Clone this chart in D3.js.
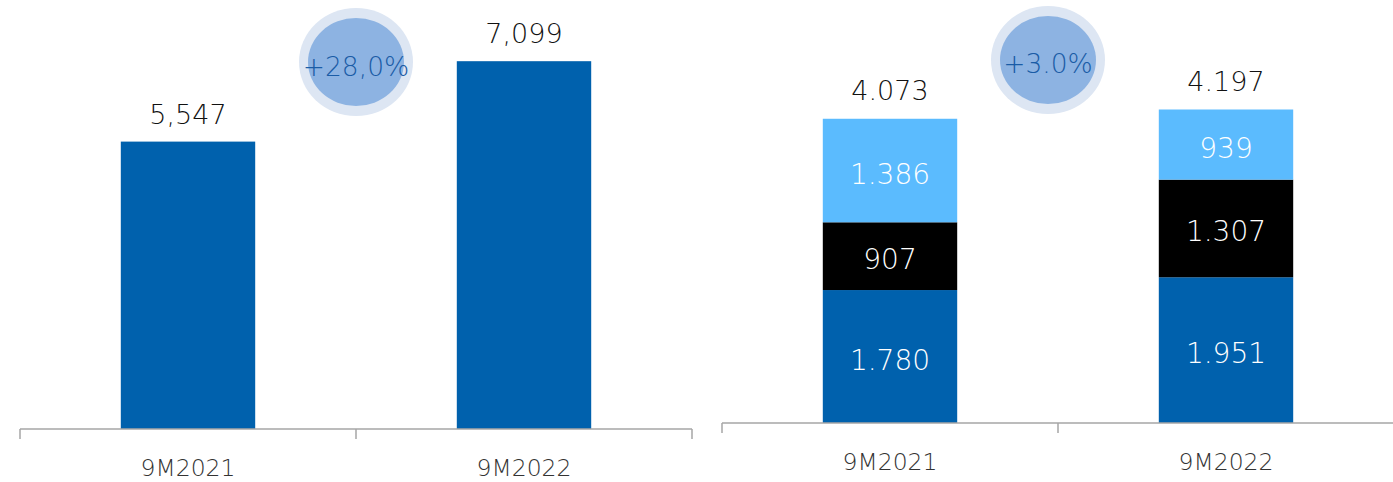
<!DOCTYPE html>
<html>
<head>
<meta charset="utf-8">
<script src="https://cdnjs.cloudflare.com/ajax/libs/d3/7.8.5/d3.min.js"></script>
<style>
  html, body { margin: 0; padding: 0; background: #fff; }
  svg { display: block; }
  text { font-family: "DejaVu Sans", sans-serif; font-weight: 200; }
</style>
</head>
<body>
<svg id="chart" width="1393" height="482"></svg>
<script>
// ---- Data ----
const categories = ["9M2021", "9M2022"];
const leftValues = [5547, 7099];
const leftLabels = ["5,547", "7,099"];
const leftGrowth = "+28,0%";

const stackSeries = ["bottom", "middle", "top"];
const stackBottom = [1780, 1951];
const stackMiddle = [907, 1307];
const stackTop = [1386, 939];
const stackBottomLabels = ["1.780", "1.951"];
const stackMiddleLabels = ["907", "1.307"];
const stackTopLabels = ["1.386", "939"];
const rightTotals = ["4.073", "4.197"];
const rightGrowth = "+3.0%";

// ---- Styles ----
const darkBlue = "#0061ad";
const lightBlue = "#5bbbfe";
const black = "#000000";
const axisColor = "#a6a6a6";

const svg = d3.select("#chart");

// ---------- Left chart ----------
const L = { x0: 20, x1: 692, base: 429 };
const xL = d3.scaleBand().domain(categories).range([L.x0, L.x1]).paddingInner(0.6).paddingOuter(0.3);
const yL = d3.scaleLinear().domain([0, 8280]).range([L.base, 0]);

const gL = svg.append("g");
gL.selectAll("rect.bar").data(categories).join("rect")
  .attr("class", "bar")
  .attr("x", d => xL(d))
  .attr("width", xL.bandwidth())
  .attr("y", (d, i) => yL(leftValues[i]))
  .attr("height", (d, i) => yL(0) - yL(leftValues[i]))
  .attr("fill", darkBlue);

gL.selectAll("text.val").data(categories).join("text")
  .attr("class", "val")
  .attr("x", d => xL(d) + xL.bandwidth() / 2)
  .attr("y", (d, i) => yL(leftValues[i]) - 18)
  .attr("text-anchor", "middle")
  .attr("font-size", 27)
  .attr("fill", "#111")
  .text((d, i) => leftLabels[i]);

// axis
function drawAxis(g, x, x0, x1, base) {
  g.append("line").attr("x1", x0).attr("x2", x1).attr("y1", base).attr("y2", base)
    .attr("stroke", axisColor).attr("stroke-width", 1.5);
  const tickXs = [x0].concat(categories.slice(0, -1).map((c, i) => x0 + (i + 1) * (x1 - x0) / categories.length), [x1]);
  g.selectAll("line.tick").data(tickXs).join("line")
    .attr("class", "tick")
    .attr("x1", d => d).attr("x2", d => d)
    .attr("y1", base).attr("y2", base + 10)
    .attr("stroke", axisColor).attr("stroke-width", 1.5);
  g.selectAll("text.cat").data(categories).join("text")
    .attr("class", "cat")
    .attr("x", d => x(d) + x.bandwidth() / 2)
    .attr("y", base + 47)
    .attr("text-anchor", "middle")
    .attr("font-size", 23.5)
    .attr("fill", "#333")
    .text(d => d);
}
drawAxis(gL, xL, L.x0, L.x1, L.base);

// growth bubble
function bubble(g, cx, cy, txt, dy) {
  g.append("ellipse").attr("cx", cx).attr("cy", cy).attr("rx", 57).attr("ry", 54).attr("fill", "#dde6f3");
  g.append("ellipse").attr("cx", cx).attr("cy", cy).attr("rx", 48).attr("ry", 44).attr("fill", "#8db3e2");
  g.append("text").attr("x", cx).attr("y", cy + dy).attr("text-anchor", "middle")
    .attr("font-size", 26.5).attr("fill", "#1a5ca6").text(txt);
}
bubble(gL, (xL(categories[0]) + xL(categories[1]) + xL.bandwidth()) / 2, 62, leftGrowth, 14);

// ---------- Right chart ----------
const R = { x0: 722, x1: 1394, base: 423 };
const xR = d3.scaleBand().domain(categories).range([R.x0, R.x1]).paddingInner(0.6).paddingOuter(0.3);
const yR = d3.scaleLinear().domain([0, 5663]).range([R.base, 0]);

const table = categories.map((c, i) => ({ cat: c, bottom: stackBottom[i], middle: stackMiddle[i], top: stackTop[i] }));
const stack = d3.stack().keys(stackSeries)(table);
const colors = { bottom: darkBlue, middle: black, top: lightBlue };
const labelsBy = { bottom: stackBottomLabels, middle: stackMiddleLabels, top: stackTopLabels };

const gR = svg.append("g");
stack.forEach(layer => {
  gR.selectAll("rect." + layer.key).data(layer).join("rect")
    .attr("class", layer.key)
    .attr("x", d => xR(d.data.cat))
    .attr("width", xR.bandwidth())
    .attr("y", d => yR(d[1]))
    .attr("height", d => yR(d[0]) - yR(d[1]))
    .attr("fill", colors[layer.key]);
  gR.selectAll("text.l" + layer.key).data(layer).join("text")
    .attr("class", "l" + layer.key)
    .attr("x", d => xR(d.data.cat) + xR.bandwidth() / 2)
    .attr("y", d => (yR(d[0]) + yR(d[1])) / 2 + 13)
    .attr("text-anchor", "middle")
    .attr("font-size", 28)
    .attr("fill", "#fff")
    .text((d, i) => labelsBy[layer.key][i]);
});
const topLayer = stack[stack.length - 1];
gR.selectAll("text.tot").data(topLayer).join("text")
  .attr("class", "tot")
  .attr("x", d => xR(d.data.cat) + xR.bandwidth() / 2)
  .attr("y", d => yR(d[1]) - 19)
  .attr("text-anchor", "middle")
  .attr("font-size", 27)
  .attr("fill", "#111")
  .text((d, i) => rightTotals[i]);

drawAxis(gR, xR, R.x0, R.x1, R.base);
bubble(gR, (xR(categories[0]) + xR(categories[1]) + xR.bandwidth()) / 2 - 10, 60, rightGrowth, 13);
</script>
</body>
</html>
